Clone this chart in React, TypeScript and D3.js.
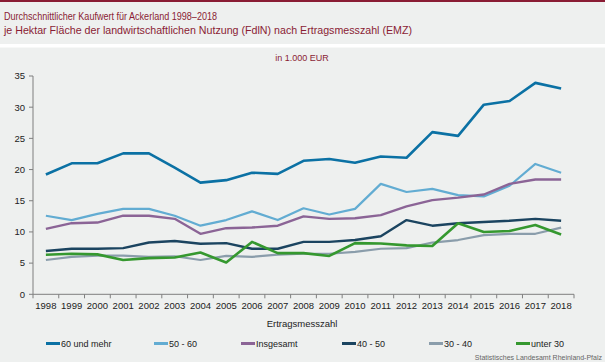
import React from 'react';
import * as d3 from 'd3';

const years = ['1998', '1999', '2000', '2001', '2002', '2003', '2004', '2005', '2006', '2007', '2008',
  '2009', '2010', '2011', '2012', '2013', '2014', '2015', '2016', '2017', '2018'];

const emz60plus = [19.2, 21.0, 21.0, 22.6, 22.6, 20.3, 17.9, 18.3, 19.5, 19.3, 21.4, 21.7, 21.1, 22.1, 21.9, 26.0, 25.4, 30.4, 31.0, 33.9, 33.0];
const emz50to60 = [12.6, 11.9, 12.9, 13.7, 13.7, 12.6, 11.0, 11.9, 13.3, 11.9, 13.8, 12.8, 13.7, 17.7, 16.4, 16.9, 15.9, 15.7, 17.4, 20.9, 19.5];
const insgesamt = [10.5, 11.4, 11.5, 12.6, 12.6, 12.1, 9.7, 10.6, 10.7, 11.0, 12.5, 12.1, 12.2, 12.7, 14.1, 15.1, 15.5, 16.0, 17.7, 18.4, 18.4];
const emz40to50 = [6.95, 7.3, 7.3, 7.4, 8.3, 8.55, 8.1, 8.2, 7.3, 7.3, 8.4, 8.4, 8.7, 9.3, 11.9, 11.0, 11.4, 11.6, 11.8, 12.1, 11.8];
const emz30to40 = [5.5, 6.0, 6.2, 6.2, 6.0, 6.1, 5.5, 6.15, 6.0, 6.35, 6.5, 6.5, 6.8, 7.3, 7.4, 8.3, 8.7, 9.5, 9.7, 9.7, 10.7];
const unter30 = [6.35, 6.5, 6.4, 5.5, 5.8, 5.9, 6.7, 5.1, 8.4, 6.6, 6.6, 6.15, 8.2, 8.15, 7.85, 7.75, 11.4, 10.0, 10.15, 11.1, 9.6];

const seriesNames = ['60 und mehr', '50 - 60', 'Insgesamt', '40 - 50', '30 - 40', 'unter 30'];
const seriesValues = [emz60plus, emz50to60, insgesamt, emz40to50, emz30to40, unter30];
const seriesColors = ['#0b71a4', '#62acd2', '#8b6496', '#1b4460', '#8a9dab', '#35982f'];
const seriesWidths = [2.6, 2.2, 2.4, 2.4, 2.2, 2.6];

const yTicks = [0, 5, 10, 15, 20, 25, 30, 35];

const legendX = [46, 154, 241, 342, 429, 516];

const FONT = 'Liberation Sans, Arial, sans-serif';
const MAROON = '#8a1c34';

export default function App() {
  const width = 605;
  const height = 362;
  const x = d3.scaleBand<string>().domain(years).range([33, 574]);
  const y = d3.scaleLinear().domain([0, 35]).range([294.3, 76]);
  const cx = (yr: string) => (x(yr) ?? 0) + x.bandwidth() / 2;

  const line = d3.line<number>()
    .x((_, i) => cx(years[i]))
    .y(d => y(d));

  const boundaries = years.map(yr => x(yr) ?? 0).concat([574]);

  return (
    <div style={{position: 'fixed', left: 0, top: 0}}>
      <svg width={width} height={height} style={{display: 'block', fontFamily: FONT}}>
        <rect x={0} y={0} width={width} height={height} fill="#eef0ef" />
        <rect x={0} y={0} width={width} height={2} fill={MAROON} />
        <rect x={0} y={44} width={width} height={3.5} fill="#ffffff" />

        <text x={4} y={20} fontSize={10.8} fill={MAROON} textLength={213} lengthAdjust="spacingAndGlyphs">Durchschnittlicher Kaufwert für Ackerland 1998–2018</text>
        <text x={4} y={34} fontSize={10.8} fill={MAROON} textLength={408} lengthAdjust="spacingAndGlyphs">je Hektar Fläche der landwirtschaftlichen Nutzung (FdlN) nach Ertragsmesszahl (EMZ)</text>
        <text x={302} y={61} fontSize={9} fill={MAROON} textAnchor="middle">in 1.000 EUR</text>

        {/* y axis */}
        <line x1={33} x2={33} y1={y(35)} y2={y(0)} stroke="#7f7f7f" strokeWidth={1} />
        {yTicks.map(t => (
          <g key={t}>
            <line x1={29} x2={33} y1={y(t)} y2={y(t)} stroke="#7f7f7f" />
            <text x={25} y={y(t)} dy="0.35em" textAnchor="end" fontSize={9.5} fill="#222">{t}</text>
          </g>
        ))}

        {/* x axis */}
        <line x1={33} x2={574} y1={y(0)} y2={y(0)} stroke="#7f7f7f" strokeWidth={1} />
        {boundaries.map((bx, i) => (
          <line key={i} x1={bx} x2={bx} y1={y(0)} y2={y(0) + 4} stroke="#7f7f7f" />
        ))}
        {years.map(yr => (
          <text key={yr} x={cx(yr)} y={309} textAnchor="middle" fontSize={9.5} fill="#222">{yr}</text>
        ))}
        <text x={302} y={327} textAnchor="middle" fontSize={9.5} fill="#222">Ertragsmesszahl</text>

        {/* lines */}
        {seriesValues.map((vals, i) => (
          <path key={seriesNames[i]} d={line(vals) ?? ''} fill="none" stroke={seriesColors[i]}
            strokeWidth={seriesWidths[i]} strokeLinejoin="round" />
        ))}

        {/* legend */}
        {seriesNames.map((name, i) => (
          <g key={name}>
            <rect x={legendX[i]} y={342} width={14} height={3} fill={seriesColors[i]} />
            <text x={legendX[i] + 15} y={346.5} fontSize={9} fill="#222">{name}</text>
          </g>
        ))}

        <text x={602} y={360} textAnchor="end" fontSize={7} fill="#666">Statistisches Landesamt Rheinland-Pfalz</text>
      </svg>
    </div>
  );
}
